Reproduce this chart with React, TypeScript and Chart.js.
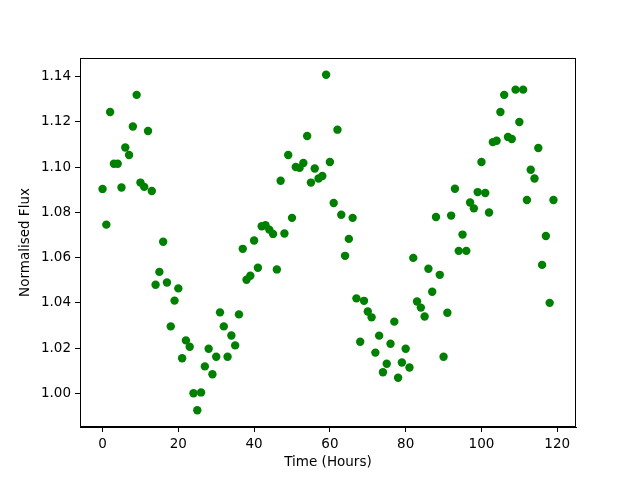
import React, { useEffect, useRef } from "react";
import { Chart, registerables } from "chart.js";

Chart.register(...registerables);

const hours: number[] = Array.from({ length: 120 }, (_, i) => i);
const flux: number[] = [
  1.0904, 1.0746, 1.1244, 1.1015, 1.1015, 1.091, 1.1087, 1.1054, 1.118, 1.132,
  1.0932, 1.0913, 1.116, 1.0895, 1.048, 1.0537, 1.067, 1.049, 1.0296, 1.041,
  1.0464, 1.0155, 1.0234, 1.0206, 1.0, 0.9925, 1.0004, 1.0119, 1.0197, 1.0084,
  1.0162, 1.0358, 1.0296, 1.0162, 1.0256, 1.0212, 1.0349, 1.0639, 1.0502, 1.052,
  1.0676, 1.0555, 1.0739, 1.0743, 1.0724, 1.0705, 1.0548, 1.094, 1.0707, 1.1054,
  1.0776, 1.1001, 1.0997, 1.1019, 1.1138, 1.0932, 1.0994, 1.095, 1.0961, 1.1409,
  1.1023, 1.0842, 1.1166, 1.079, 1.0608, 1.0683, 1.0776, 1.042, 1.0228, 1.0409,
  1.0362, 1.0336, 1.018, 1.0255, 1.0093, 1.0131, 1.0219, 1.0317, 1.0069, 1.0136,
  1.0197, 1.0114, 1.0599, 1.0406, 1.0379, 1.034, 1.0551, 1.0449, 1.078, 1.0524,
  1.0162, 1.0356, 1.0786, 1.0905, 1.063, 1.0702, 1.063, 1.0844, 1.0818, 1.089,
  1.1023, 1.0886, 1.08, 1.1111, 1.1117, 1.1244, 1.132, 1.1134, 1.1125, 1.1343,
  1.12, 1.1343, 1.0855, 1.0989, 1.095, 1.1085, 1.0568, 1.0696, 1.04, 1.0855,
];
const xTicks: number[] = [0, 20, 40, 60, 80, 100, 120];
const yTicks: number[] = [1.0, 1.02, 1.04, 1.06, 1.08, 1.1, 1.12, 1.14];

const FONT = "'DejaVu Sans', sans-serif";

export default function App() {
  const ref = useRef<HTMLCanvasElement>(null);
  useEffect(() => {
    if (!ref.current) return;
    const boxPlugin = {
      id: "box",
      afterDraw(chart: any) {
        const { ctx, chartArea: a } = chart;
        ctx.save();
        ctx.strokeStyle = "#000";
        ctx.lineWidth = 1;
        ctx.strokeRect(a.left + 0.5, a.top + 0.5, a.right - a.left - 1, a.bottom - a.top - 1);
        ctx.restore();
      },
    };
    const chart = new Chart(ref.current, {
      type: "scatter",
      data: {
        datasets: [
          {
            data: hours.map((h, i) => ({ x: h, y: flux[i] })),
            backgroundColor: "#008000",
            borderWidth: 0,
            pointRadius: 4.2,
            pointHoverRadius: 4.2,
          },
        ],
      },
      options: {
        animation: false,
        responsive: false,
        events: [],
        layout: { padding: { left: 0, right: 64, top: 58, bottom: 0 } },
        plugins: { legend: { display: false }, tooltip: { enabled: false } },
        scales: {
          x: {
            type: "linear",
            min: -5.95,
            max: 124.95,
            afterBuildTicks: (ax: any) => {
              ax.ticks = xTicks.map((v) => ({ value: v }));
            },
            afterFit: (ax: any) => {
              ax.height = 53;
            },
            grid: { display: true, drawOnChartArea: false, drawTicks: true, tickLength: 5, color: "#000" },
            border: { display: true, color: "#000" },
            ticks: { color: "#000", font: { family: FONT, size: 13.5 }, padding: 4, maxRotation: 0 },
            title: { display: true, text: "Time (Hours)", color: "#000", font: { family: FONT, size: 13.5 }, padding: { top: 0, bottom: 9 } },
          },
          y: {
            type: "linear",
            min: 0.9851,
            max: 1.1483,
            afterBuildTicks: (ax: any) => {
              ax.ticks = yTicks.map((v) => ({ value: v }));
            },
            afterFit: (ax: any) => {
              ax.width = 80;
            },
            grid: { display: true, drawOnChartArea: false, drawTicks: true, tickLength: 5, color: "#000" },
            border: { display: true, color: "#000" },
            ticks: {
              color: "#000",
              font: { family: FONT, size: 13.5 },
              padding: 4,
              callback: (v: any) => Number(v).toFixed(2),
            },
            title: { display: true, text: "Normalised Flux", color: "#000", font: { family: FONT, size: 13.5 }, padding: { top: 17, bottom: 0 } },
          },
        },
      },
      plugins: [boxPlugin],
    } as any);
    return () => chart.destroy();
  }, []);
  return (
    <div style={{ position: "fixed", left: 0, top: 0, width: 640, height: 480, background: "#fff" }}>
      <canvas ref={ref} width={640} height={480} style={{ width: 640, height: 480 }} />
    </div>
  );
}
